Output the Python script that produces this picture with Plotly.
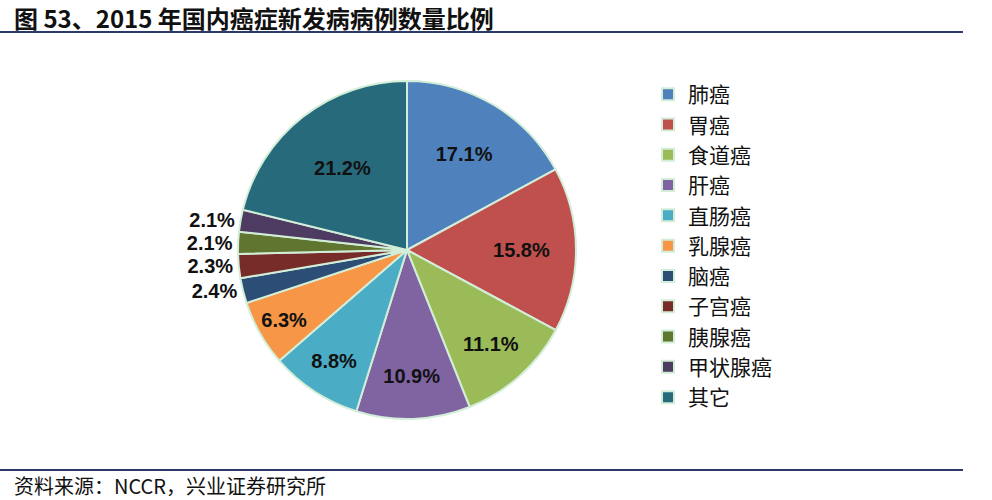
import plotly.graph_objects as go

categories = ["肺癌", "胃癌", "食道癌", "肝癌", "直肠癌", "乳腺癌", "脑癌", "子宫癌", "胰腺癌", "甲状腺癌", "其它"]
shares = [17.1, 15.8, 11.1, 10.9, 8.8, 6.3, 2.4, 2.3, 2.1, 2.1, 21.2]
colors = ["#4F81BD", "#C0504D", "#9BBB59", "#8064A2", "#4BACC6", "#F79646",
          "#2C4D75", "#772C2A", "#5F7530", "#4D3B62", "#276A7C"]
text_pos = ["inside"] * 6 + ["outside"] * 4 + ["inside"]

W, H = 992, 500
cx, cy, r = 407, 250, 169

lbl_font = dict(family="Liberation Sans, Arial", size=20, color="#111111", weight="bold")

fig = go.Figure(go.Pie(
    labels=categories,
    values=shares,
    sort=False,
    direction="clockwise",
    rotation=0,
    marker=dict(colors=colors, line=dict(color="#D3EED8", width=2)),
    texttemplate="%{value:.1f}%",
    textposition=text_pos,
    insidetextorientation="horizontal",
    textfont=lbl_font,
    insidetextfont=lbl_font,
    outsidetextfont=lbl_font,
    domain=dict(x=[(cx - r) / W, (cx + r) / W], y=[(H - cy - r) / H, (H - cy + r) / H]),
    hoverinfo="label+percent",
    showlegend=True,
))

fig.update_layout(
    width=W, height=H,
    margin=dict(l=0, r=0, t=0, b=0),
    paper_bgcolor="white",
    plot_bgcolor="white",
    legend=dict(
        x=648 / W, y=1 - 74 / H, xanchor="left", yanchor="top",
        font=dict(family="Noto Sans CJK SC", size=21, color="#111111"),
        bgcolor="rgba(0,0,0,0)",
        itemwidth=30,
        tracegroupgap=0,
    ),
    shapes=[
        dict(type="line", xref="paper", yref="paper", x0=0, x1=963 / W,
             y0=1 - 32 / H, y1=1 - 32 / H, line=dict(color="#2B3A6B", width=2)),
        dict(type="line", xref="paper", yref="paper", x0=0, x1=963 / W,
             y0=1 - 470 / H, y1=1 - 470 / H, line=dict(color="#2B3A6B", width=2)),
    ],
    annotations=[
        dict(text="<b>图 53、2015 年国内癌症新发病病例数量比例</b>", xref="paper", yref="paper",
             x=12 / W, y=1 - 17 / H, xanchor="left", yanchor="middle", showarrow=False,
             font=dict(family="Noto Sans CJK SC", size=24, color="#111111")),
        dict(text="资料来源：NCCR，兴业证券研究所", xref="paper", yref="paper",
             x=12 / W, y=1 - 485 / H, xanchor="left", yanchor="middle", showarrow=False,
             font=dict(family="Noto Sans CJK SC", size=20, color="#111111")),
    ],
)

fig.write_html("out.html")
